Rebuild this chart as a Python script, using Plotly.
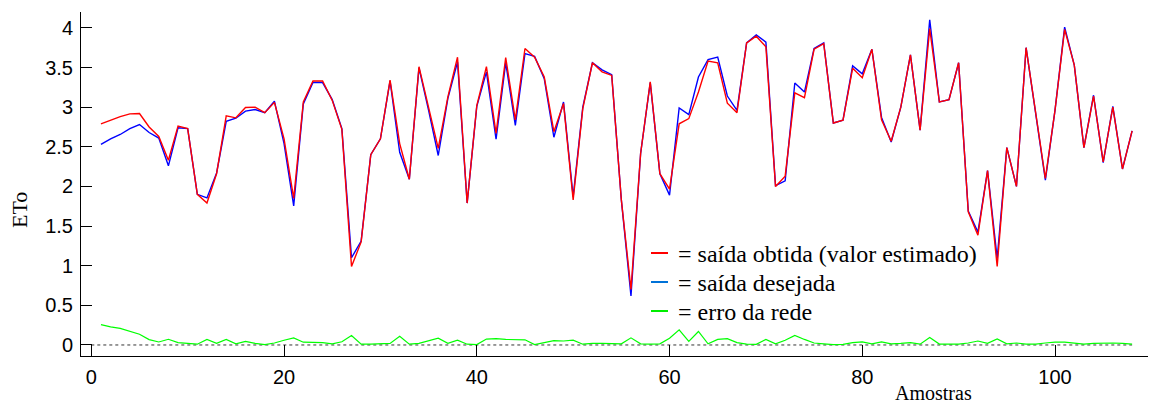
import plotly.graph_objects as go

amostras = list(range(1, 109))

saida_obtida = [
    2.79, 2.835, 2.88, 2.915, 2.92, 2.75, 2.63, 2.33, 2.76, 2.73,
    1.90, 1.79, 2.16, 2.89, 2.865, 2.995, 3.00, 2.93, 3.06, 2.60,
    1.85, 3.065, 3.33, 3.33, 3.085, 2.72, 0.99, 1.30, 2.40, 2.60,
    3.34, 2.54, 2.09, 3.51, 2.98, 2.48, 3.13, 3.63, 1.79, 3.02,
    3.51, 2.67, 3.625, 2.84, 3.74, 3.63, 3.38, 2.69, 3.045, 1.83,
    2.98, 3.56, 3.445, 3.40, 1.83, 0.70, 2.415, 3.32, 2.16, 1.965,
    2.79, 2.855, 3.19, 3.58, 3.56, 3.05, 2.93, 3.81, 3.895, 3.76,
    2.00, 2.13, 3.18, 3.12, 3.73, 3.80, 2.80, 2.835, 3.49, 3.37,
    3.73, 2.84, 2.57, 3.00, 3.66, 2.71, 3.99, 3.065, 3.095, 3.56,
    1.68, 1.385, 2.20, 0.99, 2.49, 2.00, 3.75, 2.92, 2.10, 2.96,
    3.98, 3.53, 2.49, 3.14, 2.31, 3.00, 2.22, 2.70,
]

saida_desejada = [
    2.53, 2.60, 2.655, 2.73, 2.78, 2.68, 2.61, 2.26, 2.74, 2.73,
    1.90, 1.855, 2.17, 2.82, 2.86, 2.95, 2.97, 2.93, 3.075, 2.54,
    1.755, 3.04, 3.31, 3.31, 3.095, 2.73, 1.10, 1.31, 2.40, 2.60,
    3.33, 2.43, 2.09, 3.495, 2.96, 2.39, 3.11, 3.57, 1.79, 3.01,
    3.445, 2.595, 3.56, 2.77, 3.675, 3.64, 3.36, 2.62, 3.065, 1.87,
    3.00, 3.56, 3.47, 3.41, 1.83, 0.62, 2.415, 3.31, 2.16, 1.89,
    2.99, 2.905, 3.38, 3.60, 3.63, 3.14, 2.96, 3.81, 3.91, 3.82,
    2.01, 2.07, 3.305, 3.19, 3.74, 3.81, 2.80, 2.835, 3.52, 3.42,
    3.73, 2.87, 2.56, 3.00, 3.66, 2.71, 4.10, 3.065, 3.095, 3.56,
    1.69, 1.425, 2.20, 1.09, 2.49, 2.00, 3.75, 2.92, 2.08, 2.96,
    4.01, 3.53, 2.49, 3.15, 2.30, 3.01, 2.22, 2.70,
]

erro_rede = [
    0.256, 0.228, 0.21, 0.173, 0.135, 0.068, 0.038, 0.072, 0.03, 0.02,
    0.01, 0.07, 0.02, 0.07, 0.015, 0.045, 0.02, 0.005, 0.025, 0.06,
    0.09, 0.035, 0.03, 0.03, 0.015, 0.04, 0.12, 0.01, 0.01, 0.015,
    0.02, 0.11, 0.01, 0.02, 0.05, 0.085, 0.02, 0.06, 0.01, 0.005,
    0.075, 0.08, 0.07, 0.07, 0.065, 0.005, 0.03, 0.055, 0.05, 0.06,
    0.01, 0.02, 0.02, 0.015, 0.015, 0.09, 0.015, 0.01, 0.015, 0.085,
    0.19, 0.045, 0.17, 0.015, 0.07, 0.08, 0.03, 0.01, 0.008, 0.07,
    0.015, 0.06, 0.12, 0.07, 0.025, 0.015, 0.005, 0.008, 0.03, 0.04,
    0.015, 0.04, 0.015, 0.02, 0.03, 0.01, 0.095, 0.012, 0.008, 0.012,
    0.025, 0.05, 0.02, 0.075, 0.015, 0.025, 0.01, 0.01, 0.025, 0.035,
    0.035, 0.02, 0.01, 0.02, 0.025, 0.025, 0.02, 0.01,
]

zero_x = [0, len(amostras)]
zero_y = [0, 0]

y_ticks = [0, 0.5, 1, 1.5, 2, 2.5, 3, 3.5, 4]
y_tick_labels = ["0", "0.5", "1", "1.5", "2", "2.5", "3", "3.5", "4"]
x_ticks = [0, 20, 40, 60, 80, 100]

legend_labels = ["= saída obtida (valor estimado)", "= saída desejada", "= erro da rede"]
legend_colors = ["#ff0000", "#0072d8", "#00ee00"]

SERIF = "Liberation Serif, Times New Roman, serif"

fig = go.Figure()

fig.add_trace(go.Scatter(
    x=zero_x, y=zero_y, mode="lines",
    line=dict(color="#333333", width=1, dash="dot"),
    showlegend=False, hoverinfo="skip",
))
fig.add_trace(go.Scatter(
    x=amostras, y=saida_desejada, mode="lines",
    name=legend_labels[1], showlegend=False,
    line=dict(color="#0000ff", width=1.4),
))
fig.add_trace(go.Scatter(
    x=amostras, y=saida_obtida, mode="lines",
    name=legend_labels[0], showlegend=False,
    line=dict(color="#ff0000", width=1.4),
))
fig.add_trace(go.Scatter(
    x=amostras, y=erro_rede, mode="lines",
    name=legend_labels[2], showlegend=False,
    line=dict(color="#00ff00", width=1.2),
))

# legend key (drawn as shapes + text, to match the compact reference spacing)
L, T, W, H = 81, 12, 1067, 344
def px(xp):
    return (xp - L) / W
def py(yp):
    return (T + H - yp) / H

legend_rows = [253, 282, 311]
shapes = []
annotations = []
for label, color, row in zip(legend_labels, legend_colors, legend_rows):
    shapes.append(dict(type="line", xref="paper", yref="paper",
                       x0=px(651), x1=px(668), y0=py(row), y1=py(row),
                       line=dict(color=color, width=2)))
    annotations.append(dict(text=label, xref="paper", yref="paper",
                            x=px(676), y=py(row + 1), xanchor="left", yanchor="middle",
                            showarrow=False, font=dict(family=SERIF, size=24, color="black")))

annotations.append(dict(text="ETo", xref="paper", yref="paper", x=0, y=py(210),
                        xshift=-62, textangle=-90, showarrow=False,
                        xanchor="center", yanchor="middle",
                        font=dict(family=SERIF, size=22, color="black")))
annotations.append(dict(text="Amostras", xref="paper", yref="paper", x=px(933), y=py(393),
                        showarrow=False, xanchor="center", yanchor="middle",
                        font=dict(family=SERIF, size=20, color="black")))

fig.update_layout(
    width=1153, height=404,
    margin=dict(l=81, r=5, t=12, b=48),
    plot_bgcolor="white", paper_bgcolor="white",
    font=dict(family="Liberation Sans, Arial, sans-serif", size=20, color="black"),
    showlegend=False,
    xaxis=dict(
        range=[-1.07, 109.65], tickvals=x_ticks,
        ticks="inside", ticklen=11, tickcolor="black", tickwidth=1,
        showline=True, linecolor="black", linewidth=1, mirror=False,
        showgrid=False, zeroline=False, ticklabelstandoff=3,
    ),
    yaxis=dict(
        range=[-0.139, 4.2], tickvals=y_ticks, ticktext=y_tick_labels,
        ticks="inside", ticklen=11, tickcolor="black", tickwidth=1,
        showline=True, linecolor="black", linewidth=1, mirror=False,
        showgrid=False, zeroline=False, ticklabelstandoff=3,
    ),
    shapes=shapes,
    annotations=annotations,
)

fig.write_html(
    "out.html",
    config={"displayModeBar": False},
    post_script="document.body.style.margin='0px';document.body.style.overflow='hidden';",
)
